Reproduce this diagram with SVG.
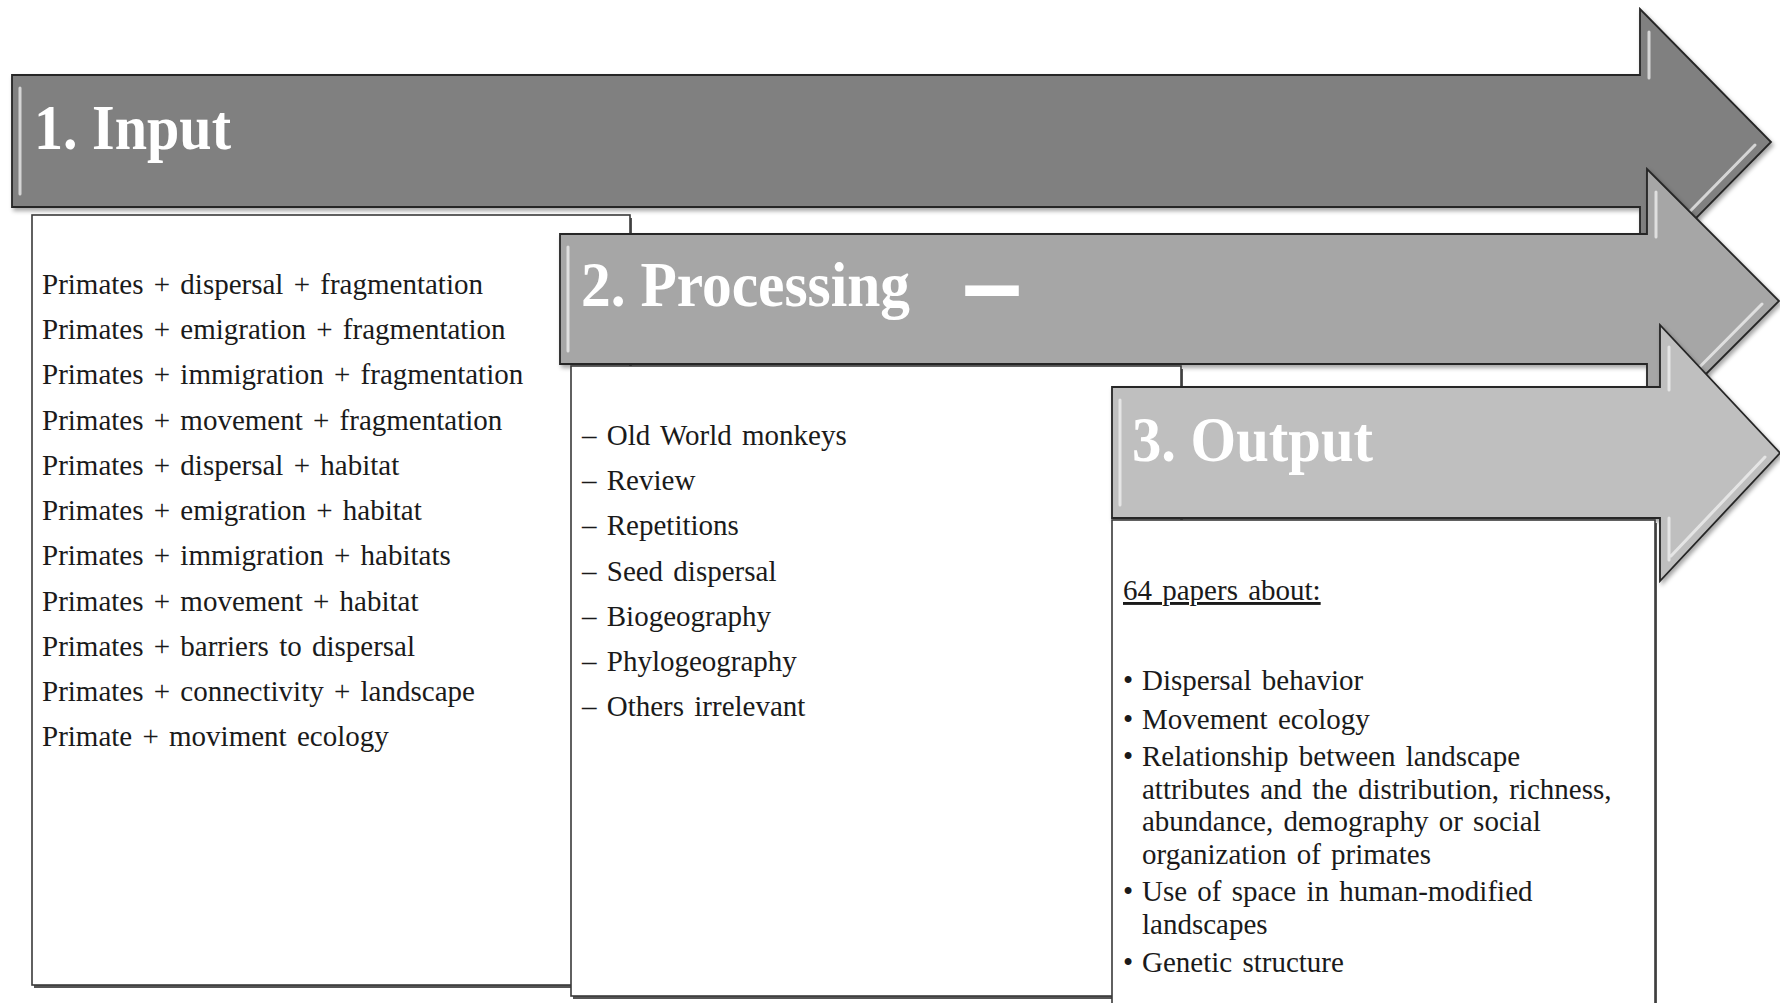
<svg xmlns="http://www.w3.org/2000/svg" width="1780" height="1003" viewBox="0 0 1780 1003">
<defs>
<filter id="sh" x="-5%" y="-10%" width="110%" height="130%">
<feDropShadow dx="2" dy="3" stdDeviation="2" flood-color="#000" flood-opacity="0.35"/>
</filter>
</defs>
<style>
.arrow{stroke:#262626;stroke-width:1.8;stroke-linejoin:miter}
.a1{fill:#808080}
.a2{fill:#a6a6a6}
.a3{fill:#bfbfbf}
.bev{fill:none;stroke:#f2f2f2;stroke-width:3;stroke-opacity:0.75;stroke-linecap:round}
.box{fill:#ffffff;stroke:#3a3a3a;stroke-width:1.6}
.title{font-family:"Liberation Serif","Times New Roman",serif;font-weight:bold;font-size:64px;fill:#ffffff}
.t{font-family:"Liberation Serif","Times New Roman",serif;font-size:29px;fill:#1a1a1a;word-spacing:3px}
</style>
<rect width="1780" height="1003" fill="#ffffff"/>

<g id="input">
<g id="input-arrow" filter="url(#sh)">
<polygon class="arrow a1" points="12,75 1640,75 1640,9 1771,142 1640,275 1640,207 12,207"/>
</g>
<path class="bev" d="M20,88 L20,194"/>
<path class="bev" d="M1649,32 L1649,78 M1755,145 L1652,250"/>
<text class="title" x="34" y="149" textLength="197" lengthAdjust="spacingAndGlyphs">1. Input</text>
</g>

<g id="input-box">
<rect x="34" y="218" width="598" height="770" fill="#555"/>
<rect class="box" x="32" y="215" width="598" height="770"/>
<g class="t">
<text x="42" y="294">Primates + dispersal + fragmentation</text>
<text x="42" y="339">Primates + emigration  + fragmentation</text>
<text x="42" y="384">Primates + immigration +  fragmentation</text>
<text x="42" y="430">Primates + movement + fragmentation</text>
<text x="42" y="475">Primates + dispersal + habitat</text>
<text x="42" y="520">Primates + emigration  + habitat</text>
<text x="42" y="565">Primates + immigration  + habitats</text>
<text x="42" y="611">Primates + movement + habitat</text>
<text x="42" y="656">Primates + barriers to dispersal</text>
<text x="42" y="701">Primates + connectivity  + landscape</text>
<text x="42" y="746">Primate + moviment ecology</text>
</g>
</g>

<g id="processing">
<g filter="url(#sh)">
<polygon class="arrow a2" points="560,234 1647,234 1647,169 1779,301 1647,433 1647,364 560,364"/>
</g>
<path class="bev" d="M568,247 L568,351"/>
<path class="bev" d="M1656,192 L1656,237 M1762,304 L1659,408"/>
<text class="title" x="581" y="306" textLength="329" lengthAdjust="spacingAndGlyphs">2. Processing</text>
<text class="title" x="970" y="306" textLength="44" lengthAdjust="spacingAndGlyphs" stroke="#ffffff" stroke-width="6">–</text>
</g>

<g id="processing-box">
<rect x="573" y="369" width="610" height="630" fill="#555"/>
<rect class="box" x="571" y="366" width="610" height="630"/>
<g class="t">
<text x="582" y="445">– Old World monkeys</text>
<text x="582" y="490">– Review</text>
<text x="582" y="535">– Repetitions</text>
<text x="582" y="581">– Seed dispersal</text>
<text x="582" y="626">– Biogeography</text>
<text x="582" y="671">– Phylogeography</text>
<text x="582" y="716">– Others irrelevant</text>
</g>
</g>

<g id="output">
<g filter="url(#sh)">
<polygon class="arrow a3" points="1112,387 1660,387 1660,325 1780,453 1660,581 1660,518 1112,518"/>
</g>
<path class="bev" d="M1120,400 L1120,505"/>
<path class="bev" d="M1669,347 L1669,390 M1765,457 L1671,556 M1669,518 L1669,560"/>
<text class="title" x="1132" y="461" textLength="241" lengthAdjust="spacingAndGlyphs">3. Output</text>
</g>

<g id="output-box">
<rect x="1114" y="523" width="543" height="490" fill="#555"/>
<rect class="box" x="1112" y="520" width="543" height="490"/>
<g class="t">
<text x="1123" y="600" text-decoration="underline">64 papers about:</text>
<text x="1123" y="690">•</text><text x="1142" y="690">Dispersal behavior</text>
<text x="1123" y="729">•</text><text x="1142" y="729">Movement ecology</text>
<text x="1123" y="766">•</text><text x="1142" y="766">Relationship between landscape</text>
<text x="1142" y="799">attributes and the distribution, richness,</text>
<text x="1142" y="831">abundance, demography or social</text>
<text x="1142" y="864">organization of primates</text>
<text x="1123" y="901">•</text><text x="1142" y="901">Use of space in human-modified</text>
<text x="1142" y="934">landscapes</text>
<text x="1123" y="972">•</text><text x="1142" y="972">Genetic structure</text>
</g>
</g>

<g id="connectors"></g>
</svg>
